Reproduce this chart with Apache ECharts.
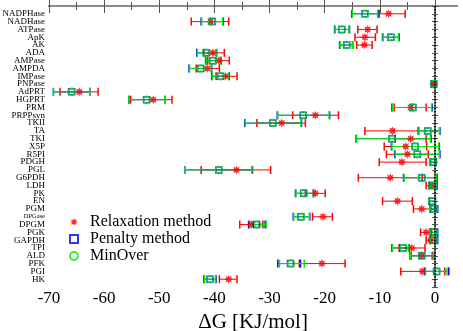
<!DOCTYPE html>
<html>
<head>
<meta charset="utf-8">
<script src="https://cdn.jsdelivr.net/npm/echarts@6/dist/echarts.min.js"></script>
<style>
    html, body { margin: 0; padding: 0; background: #fff; }
    #deltaGChart { width: 463px; height: 331px; }
</style>
</head>
<body>
<div id="deltaGChart"></div>
<script>
// reactions, top to bottom
let reactions = ['NADPHase', 'NADHase', 'ATPase', 'ApK', 'AK', 'ADA', 'AMPase', 'AMPDA', 'IMPase', 'PNPase',
    'AdPRT', 'HGPRT', 'PRM', 'PRPPsyn', 'TKII', 'TA', 'TKI', 'X5P', 'R5PI', 'PDGH',
    'PGL', 'G6PDH', 'LDH', 'PK', 'EN', 'PGM', 'DPGase', 'DPGM', 'PGK', 'GAPDH',
    'TPI', 'ALD', 'PFK', 'PGI', 'HK'];

let xTickLabels = [-70, -60, -50, -40, -30, -20, -10, 0];
let xMinorTicks = [-65, -55, -45, -35, -25, -15, -5];

// Relaxation method: value, error bar low / high
let relaxVal = [-8.4, -40.7, -12.2, -12.7, -12.8, -40.3, -39.2, -41.3, -38.0, -0.2,
    -64.5, -51.1, -4.4, -21.7, -27.8, -7.7, -4.4, -5.3, -5.0, -6.0,
    -36.0, -8.1, -0.6, -21.7, -6.8, -2.4, -20.3, -33.3, -1.6, -0.8,
    -4.2, -2.4, -20.5, -2.3, -37.4];
let relaxLow = [-10.1, -44.2, -14.0, -14.5, -14.2, -41.9, -41.2, -43.3, -39.7, -0.5,
    -68.0, -55.2, -7.4, -25.8, -32.3, -12.7, -7.2, -9.2, -8.8, -10.1,
    -42.4, -13.9, -1.6, -23.5, -9.5, -3.9, -22.2, -35.4, -2.6, -1.6,
    -6.5, -4.3, -24.6, -6.2, -39.1];
let relaxHigh = [-5.4, -37.4, -10.5, -10.8, -11.4, -38.2, -37.3, -39.1, -35.9, 0.1,
    -61.1, -47.7, -1.6, -17.5, -23.5, -3.0, -1.6, -1.5, -1.2, -1.6,
    -29.8, -2.3, 0.4, -19.9, -4.1, -0.9, -18.6, -31.2, -0.6, 0.0,
    -1.8, -0.5, -16.3, 1.8, -35.9];

// Penalty method
let penaltyVal = [-12.7, -40.4, -16.9, -8.0, -16.0, -41.5, -40.3, -42.5, -38.9, -0.2,
    -65.9, -52.3, -4.0, -23.9, -29.4, -1.3, -7.8, -3.6, -3.2, -0.3,
    -39.2, -2.4, -0.3, -23.8, -0.5, -0.2, -24.3, -32.4, -0.2, -0.2,
    -5.8, -2.4, -26.2, 0.3, -40.8];
let penaltyLow = [-15.1, -42.4, -18.2, -9.5, -17.3, -43.2, -41.6, -44.6, -40.5, -0.5,
    -69.2, -55.5, -7.8, -28.6, -34.5, -3.0, -14.3, -7.9, -7.3, -0.8,
    -45.3, -5.7, -1.1, -25.3, -1.0, -0.9, -25.7, -33.8, -0.9, -0.9,
    -7.8, -4.5, -28.5, -1.9, -41.9];
let penaltyHigh = [-10.3, -38.4, -15.5, -6.5, -14.9, -39.6, -38.8, -40.5, -37.3, 0.1,
    -62.6, -49.0, -0.5, -19.1, -24.2, 0.9, -0.7, 0.8, 0.9, 0.2,
    -33.1, 0.4, 0.4, -22.0, 0.1, 0.5, -22.7, -30.8, 0.5, 0.5,
    -4.7, -0.2, -24.4, 2.5, -39.7];

// MinOver
let minOverVal = [-12.7, -40.4, -16.9, -8.0, -16.0, -41.5, -40.3, -42.5, -38.9, -0.2,
    -65.9, -52.3, -4.0, -23.9, -29.4, -1.3, -7.8, -3.6, -3.2, -0.3,
    -39.2, -2.4, -0.3, -23.8, -0.5, -0.2, -24.3, -32.1, -0.2, -0.2,
    -5.7, -2.4, -26.1, 0.3, -40.7];
let minOverLow = [-15.0, -42.3, -18.1, -9.4, -17.2, -43.1, -41.5, -44.5, -40.4, -0.5,
    -69.2, -55.5, -7.7, -28.5, -34.4, -2.9, -14.2, -7.8, -7.2, -0.8,
    -45.3, -5.6, -1.1, -25.2, -1.0, -0.9, -25.6, -33.6, -0.9, -0.9,
    -7.7, -4.4, -28.2, -1.7, -41.8];
let minOverHigh = [-10.4, -38.5, -15.6, -6.6, -15.0, -39.7, -38.9, -40.6, -37.4, 0.1,
    -62.6, -49.0, -0.6, -19.2, -24.3, 0.8, -0.8, 0.7, 0.8, 0.1,
    -33.2, 0.3, 0.3, -22.1, 0.0, 0.4, -22.8, -30.6, 0.4, 0.4,
    -4.8, -0.3, -23.7, 2.2, -39.8];

let serif = '"Liberation Serif", "DejaVu Serif", serif';

// 8 spoke asterisk used for the relaxation markers
function starPath() {
    let pts = [];
    for (let k = 0; k < 16; k++) {
        let a = k * Math.PI / 8 - Math.PI / 2;
        let r = k % 2 === 0 ? 10 : 5.5;
        pts.push((k === 0 ? 'M' : 'L') + (10 + r * Math.cos(a)).toFixed(2) + ' ' + (10 + r * Math.sin(a)).toFixed(2));
    }
    return 'path://' + pts.join(' ') + ' Z';
}
let starSymbol = starPath();

function buildRows(vals, lows, highs) {
    let rows = [];
    for (let i = 0; i < vals.length; i++) {
        rows.push([vals[i], lows[i], highs[i], i + 1]);
    }
    return rows;
}

function errorBar(color) {
    return function (params, api) {
        let y = api.value(3);
        let lo = api.coord([api.value(1), y]);
        let hi = api.coord([api.value(2), y]);
        let h = 4;
        return {
            type: 'group',
            children: [
                {type: 'line', shape: {x1: lo[0], y1: lo[1], x2: hi[0], y2: hi[1]}, style: {stroke: color, lineWidth: 1}},
                {type: 'line', shape: {x1: lo[0], y1: lo[1] - h, x2: lo[0], y2: lo[1] + h}, style: {stroke: color, lineWidth: 1.5}},
                {type: 'line', shape: {x1: hi[0], y1: hi[1] - h, x2: hi[0], y2: hi[1] + h}, style: {stroke: color, lineWidth: 1.5}}
            ]
        };
    };
}

function method(name, color, rows, symbol, size, itemStyle) {
    return [
        {
            type: 'custom',
            name: name + ' err',
            renderItem: errorBar(color),
            encode: {x: [0, 1, 2], y: 3},
            data: rows,
            silent: true,
            z: 2
        },
        {
            type: 'scatter',
            name: name,
            symbol: symbol,
            symbolSize: size,
            data: rows.map(r => [r[0], r[3]]),
            itemStyle: itemStyle,
            z: 3
        }
    ];
}

let chart = echarts.init(document.getElementById('deltaGChart'));

let frame = {lineStyle: {color: '#8a8a8a', width: 2}};

let option = {
    animation: false,
    backgroundColor: '#fff',
    grid: {left: 49, right: 6, top: 6, bottom: 44, outerBoundsMode: 'none', containLabel: false},
    legend: {
        orient: 'vertical',
        left: 64,
        top: 209,
        itemWidth: 8,
        itemHeight: 8,
        itemGap: 1,
        data: [
            {name: 'Relaxation method', icon: starSymbol},
            {name: 'Penalty method', icon: 'rect'},
            {name: 'MinOver', icon: 'circle'}
        ],
        textStyle: {fontFamily: serif, fontSize: 16, color: '#000', lineHeight: 16, padding: [0, 0, 0, 7]}
    },
    xAxis: [
        {
            type: 'value', position: 'bottom', min: -70, max: 4,
            name: 'ΔG [KJ/mol]', nameLocation: 'middle', nameGap: 15,
            nameTextStyle: {fontFamily: serif, fontSize: 21, color: '#000'},
            axisLine: frame,
            axisTick: {inside: true, length: 7, customValues: xTickLabels, lineStyle: {color: '#555', width: 1}},
            axisLabel: {customValues: xTickLabels, fontFamily: serif, fontSize: 17, color: '#000', margin: 3},
            splitLine: {show: false}
        },
        {
            type: 'value', position: 'bottom', min: -70, max: 4,
            axisLine: {show: false},
            axisTick: {inside: true, length: 4, customValues: xMinorTicks, lineStyle: {color: '#555', width: 1}},
            axisLabel: {show: false},
            splitLine: {show: false}
        },
        {
            type: 'value', position: 'top', min: -70, max: 4,
            axisLine: frame,
            axisTick: {inside: true, length: 7, customValues: xTickLabels, lineStyle: {color: '#555', width: 1}},
            axisLabel: {show: false},
            splitLine: {show: false}
        },
        {
            type: 'value', position: 'top', min: -70, max: 4,
            axisLine: {show: false},
            axisTick: {inside: true, length: 4, customValues: xMinorTicks, lineStyle: {color: '#555', width: 1}},
            axisLabel: {show: false},
            splitLine: {show: false}
        }
    ],
    yAxis: [
        {
            type: 'value', position: 'left', inverse: true, min: 0, max: 36, interval: 1,
            axisLine: frame,
            axisTick: {inside: true, length: 3, lineStyle: {color: '#555', width: 1}},
            axisLabel: {
                fontFamily: serif, fontSize: 9, color: '#000', margin: 4,
                formatter: function (v) {
                    let name = reactions[v - 1];
                    if (!name) return '';
                    return name === 'DPGase' ? '{s|' + name + '}' : name;
                },
                rich: {s: {fontFamily: serif, fontSize: 6.5, color: '#000'}}
            },
            splitLine: {show: false}
        },
        {
            type: 'value', position: 'right', inverse: true, min: 0, max: 36, interval: 1,
            axisLine: frame,
            axisTick: {inside: true, length: 3, lineStyle: {color: '#555', width: 1}},
            axisLabel: {show: false},
            splitLine: {show: false}
        }
    ],
    series: [].concat(
        method('Relaxation method', '#ff0000', buildRows(relaxVal, relaxLow, relaxHigh), starSymbol, 9,
            {color: '#ff0000'}),
        method('Penalty method', '#0000ff', buildRows(penaltyVal, penaltyLow, penaltyHigh), 'rect', 6,
            {color: 'transparent', borderColor: '#0000ff', borderWidth: 1.5}),
        method('MinOver', '#00ee00', buildRows(minOverVal, minOverLow, minOverHigh), 'circle', 7,
            {color: 'transparent', borderColor: '#00ee00', borderWidth: 1.5})
    )
};

// dotted zero line
option.series.push({
    type: 'line',
    data: [],
    silent: true,
    markLine: {
        silent: true,
        symbol: 'none',
        label: {show: false},
        lineStyle: {color: '#000', type: 'dotted', width: 1.5},
        data: [{xAxis: 0}]
    }
});

chart.setOption(option);
</script>
</body>
</html>
